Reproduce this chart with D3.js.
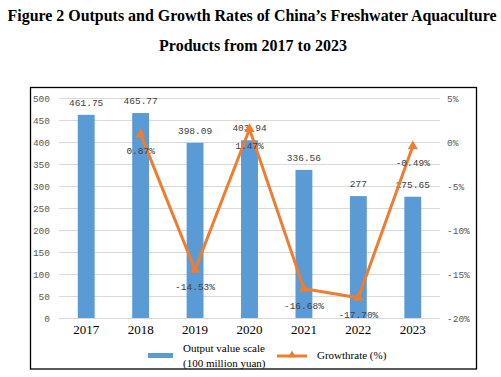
<!DOCTYPE html>
<html><head><meta charset="utf-8">
<script src="https://cdn.jsdelivr.net/npm/d3@7"></script>
<style>body{margin:0;background:#fff}svg{display:block}</style>
</head><body>
<script>
const years = ["2017","2018","2019","2020","2021","2022","2023"];
const outputValues = [461.75, 465.77, 398.09, 403.94, 336.56, 277, 275.65];
const growthYears = ["2018","2019","2020","2021","2022","2023"];
const growthRates = [0.87, -14.53, 1.47, -16.68, -17.70, -0.49];
const leftTicks = [0,50,100,150,200,250,300,350,400,450,500];
const rightTicks = [5,0,-5,-10,-15,-20];

const W = 501, H = 377;
const svg = d3.select("body").append("svg").attr("width", W).attr("height", H);

// title
const title = svg.append("g").attr("font-family","'Liberation Serif','Times New Roman',serif")
  .attr("font-weight","bold").attr("font-size","16px").attr("fill","#000").attr("text-anchor","middle");
title.append("text").attr("x",252).attr("y",21).attr("textLength",489).attr("lengthAdjust","spacingAndGlyphs")
  .text("Figure 2 Outputs and Growth Rates of China’s Freshwater Aquaculture");
title.append("text").attr("x",253).attr("y",51).text("Products from 2017 to 2023");

// border
svg.append("rect").attr("x",30.5).attr("y",87.5).attr("width",446).attr("height",281.5)
  .attr("fill","none").attr("stroke","#000").attr("stroke-width",1.3);

const x = d3.scaleBand().domain(years).range([59, 440]).paddingInner(0.69).paddingOuter(0.345);
const y = d3.scaleLinear().domain([0,500]).range([318,98]);
const y2 = d3.scaleLinear().domain([-20,5]).range([318,98]);

// grid
svg.append("g").selectAll("line").data(leftTicks).join("line")
  .attr("x1",59).attr("x2",440).attr("y1",d=>Math.round(y(d))+0.5).attr("y2",d=>Math.round(y(d))+0.5)
  .attr("stroke","#d9d9d9").attr("stroke-width",1);

// left axis
const la = svg.append("g").attr("transform","translate(50,0)")
  .call(d3.axisLeft(y).tickValues(leftTicks).tickSize(0).tickPadding(0));
la.select(".domain").remove();
la.selectAll("text").attr("font-family","'Liberation Mono','DejaVu Sans Mono',monospace")
  .attr("font-size","9.5px").attr("fill","#595959");

// right axis
const ra = svg.append("g").attr("transform","translate(447,0)")
  .call(d3.axisRight(y2).tickValues(rightTicks).tickSize(0).tickPadding(0).tickFormat(d=>d+"%"));
ra.select(".domain").remove();
ra.selectAll("text").attr("font-family","'Liberation Mono','DejaVu Sans Mono',monospace")
  .attr("font-size","9.5px").attr("fill","#595959");

// x axis labels
const xa = svg.append("g").attr("transform","translate(0,325)")
  .call(d3.axisBottom(x).tickSize(0).tickPadding(0));
xa.select(".domain").remove();
xa.selectAll("text").attr("font-family","'Liberation Serif','Times New Roman',serif")
  .attr("font-size","13px").attr("fill","#000");

// bars
svg.append("g").selectAll("rect").data(years).join("rect")
  .attr("x",d=>x(d)).attr("width",x.bandwidth())
  .attr("y",(d,i)=>y(outputValues[i])).attr("height",(d,i)=>y(0)-y(outputValues[i]))
  .attr("fill","#5B9BD5");

// bar labels
svg.append("g").selectAll("text").data(years).join("text")
  .attr("x",d=>x(d)+x.bandwidth()/2).attr("y",(d,i)=>y(outputValues[i])-9)
  .attr("text-anchor","middle").attr("font-family","'Liberation Mono','DejaVu Sans Mono',monospace")
  .attr("font-size","9.5px").attr("fill","#404040")
  .text((d,i)=>String(outputValues[i]));

// line
const cx = d => x(d)+x.bandwidth()/2;
const line = d3.line().x((d,i)=>cx(growthYears[i])).y(d=>y2(d));
svg.append("path").datum(growthRates).attr("d",line).attr("fill","none")
  .attr("stroke","#ED7D31").attr("stroke-width",3).attr("stroke-linejoin","miter");

const tri = d3.symbol().type(d3.symbolTriangle).size(45);
svg.append("g").selectAll("path").data(growthRates).join("path")
  .attr("transform",(d,i)=>`translate(${cx(growthYears[i])},${y2(d)})`)
  .attr("d",tri).attr("fill","#ED7D31");

// growth labels
svg.append("g").selectAll("text").data(growthRates).join("text")
  .attr("x",(d,i)=>cx(growthYears[i])).attr("y",d=>y2(d)+20)
  .attr("text-anchor","middle").attr("font-family","'Liberation Mono','DejaVu Sans Mono',monospace")
  .attr("font-size","9.5px").attr("fill","#404040")
  .text(d=>d.toFixed(2)+"%");

// legend
const lg = svg.append("g").attr("font-family","'Liberation Serif','Times New Roman',serif")
  .attr("font-size","11px").attr("fill","#000");
lg.append("rect").attr("x",148).attr("y",353).attr("width",25).attr("height",5).attr("fill","#5B9BD5");
lg.append("text").attr("x",183).attr("y",352).text("Output value scale");
lg.append("text").attr("x",183).attr("y",367).text("(100 million yuan)");
lg.append("line").attr("x1",277).attr("x2",307).attr("y1",356).attr("y2",356)
  .attr("stroke","#ED7D31").attr("stroke-width",3);
lg.append("path").attr("transform","translate(292,355)").attr("d",d3.symbol().type(d3.symbolTriangle).size(25)).attr("fill","#ED7D31");
lg.append("text").attr("x",317).attr("y",359).text("Growthrate (%)");
</script>
</body></html>
